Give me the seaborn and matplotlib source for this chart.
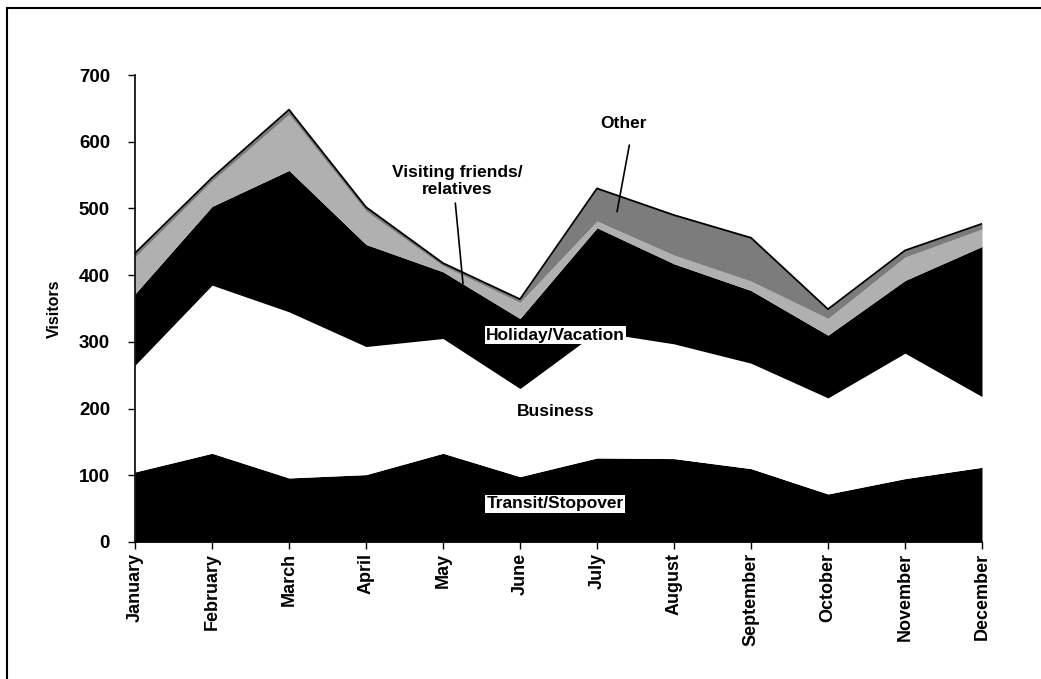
import numpy as np
import pandas as pd
import matplotlib
matplotlib.use("Agg")
import matplotlib.pyplot as plt
from matplotlib.lines import Line2D
import seaborn as sns

months = ["January", "February", "March", "April", "May", "June", "July",
          "August", "September", "October", "November", "December"]
transit = [105, 133, 96, 101, 133, 98, 126, 125, 110, 72, 95, 112]
business = [160, 252, 249, 192, 172, 132, 189, 172, 158, 144, 188, 106]
holiday = [107, 118, 212, 153, 100, 105, 156, 120, 109, 94, 109, 225]
vfr = [55, 38, 84, 50, 9, 24, 10, 13, 14, 25, 35, 26]
other = [6, 5, 7, 6, 4, 5, 49, 60, 65, 14, 10, 8]
yticks = [0, 100, 200, 300, 400, 500, 600, 700]

sns.set_theme(style="white")
plt.rcParams['font.family'] = ['Liberation Sans', 'DejaVu Sans']
plt.rcParams['font.weight'] = 'bold'
for k in ['text.color', 'axes.labelcolor', 'xtick.color', 'ytick.color']:
    plt.rcParams[k] = 'black'

fig = plt.figure(figsize=(10.41, 6.79), dpi=100)
ax = fig.add_axes([135/1041, 1-542/679, (982-135)/1041, (542-75)/679])

x = np.arange(len(months))
ax.stackplot(x, transit, business, holiday, vfr, other,
             colors=["black", "white", "black", "#b0b0b0", "#7c7c7c"],
             linewidth=0)
total = np.array(transit) + np.array(business) + np.array(holiday) + np.array(vfr) + np.array(other)
df = pd.DataFrame({"x": x, "total": total})
sns.lineplot(data=df, x="x", y="total", ax=ax, color="black", linewidth=1.3)

ax.set_xlim(0, len(months) - 1)
ax.set_ylim(0, 700)
ax.set_yticks(yticks)
ax.set_yticklabels([str(v) for v in yticks], fontsize=13.5, fontweight='bold')
ax.set_xticks(x)
ax.set_xticklabels(months, rotation=90, fontsize=13, fontweight='bold')
ax.set_xlabel("")
ax.set_ylabel("Visitors", fontsize=11.5, fontweight='bold', labelpad=12)
ax.tick_params(axis='both', which='both', direction='out', length=5, width=1,
               color='black', labelcolor='black', left=True, bottom=True)
ax.tick_params(axis='y', pad=13)
ax.tick_params(axis='x', pad=3)
for s in ["top", "right"]:
    ax.spines[s].set_visible(False)
for s in ["left", "bottom"]:
    ax.spines[s].set_color("black")
    ax.spines[s].set_linewidth(1.2)

# annotations
ax.text(5.46, 310, "Holiday/Vacation", ha="center", va="center", fontsize=12.5,
        fontweight='bold', color='black', bbox=dict(facecolor="white", edgecolor="none", pad=1))
ax.text(5.46, 195, "Business", ha="center", va="center", fontsize=12.5,
        fontweight='bold', color='black')
ax.text(5.46, 57, "Transit/Stopover", ha="center", va="center", fontsize=12.5,
        fontweight='bold', color='black', bbox=dict(facecolor="white", edgecolor="none", pad=1))
ax.text(4.19, 541, "Visiting friends/\nrelatives", ha="center", va="center",
        fontsize=12.5, fontweight='bold', color='black', linespacing=1.2)
ax.plot([4.16, 4.26], [508, 387], color="black", lw=1.2)
ax.text(6.35, 628, "Other", ha="center", va="center", fontsize=12.5,
        fontweight='bold', color='black')
ax.plot([6.42, 6.26], [595, 495], color="black", lw=1.2)

# outer frame (left and top)
fig.add_artist(Line2D([7/1041, 7/1041], [0, 1-8/679], color="black", lw=1.5))
fig.add_artist(Line2D([7/1041, 1], [1-8/679, 1-8/679], color="black", lw=1.5))

fig.savefig("out.png", dpi=100)
